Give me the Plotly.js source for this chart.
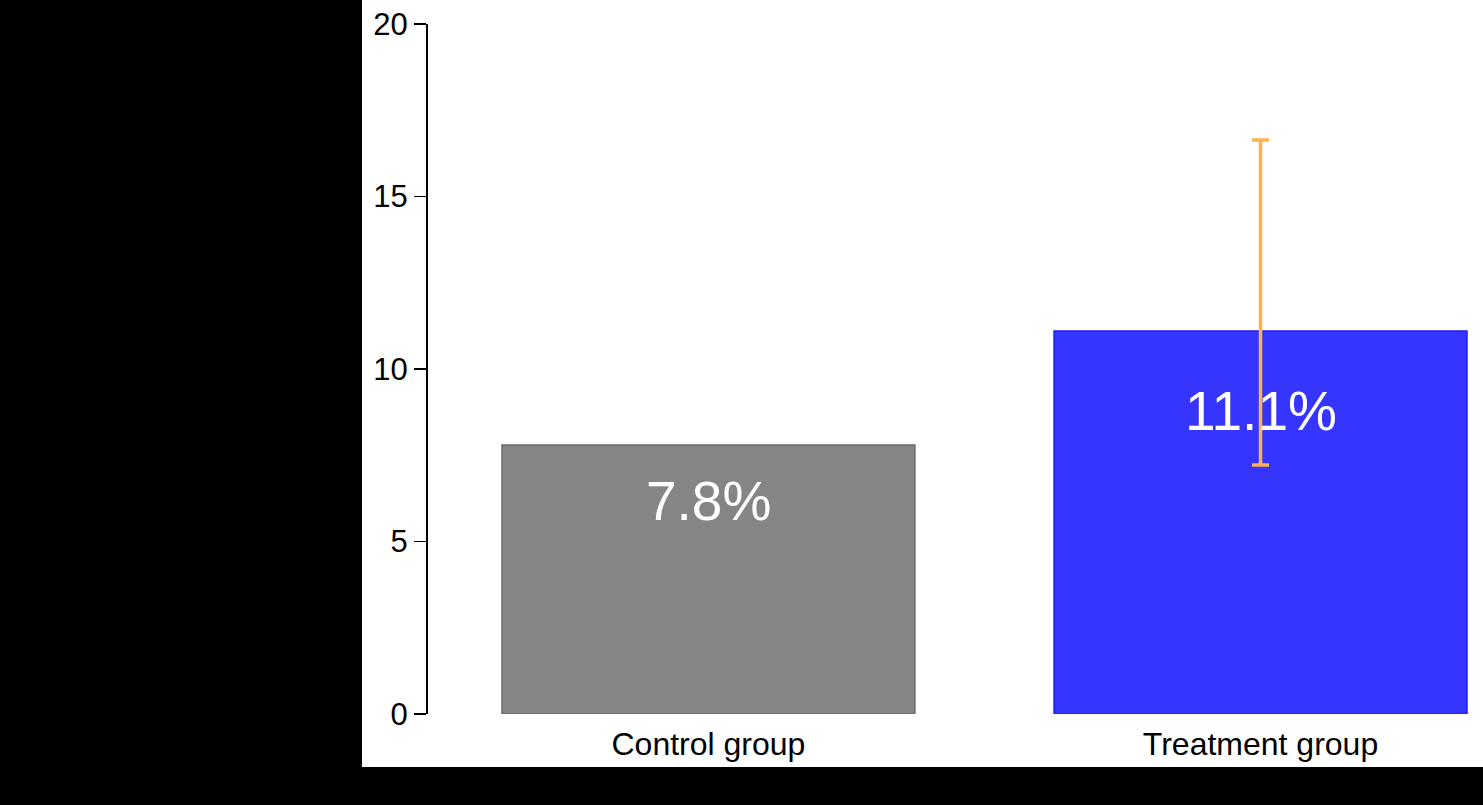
<!DOCTYPE html>
<html>
<head>
<meta charset="utf-8">
<script src="https://cdn.plot.ly/plotly-3.0.1.min.js"></script>
<style>
  html, body { margin: 0; padding: 0; background: #000; }
  #chart { position: absolute; left: 362px; top: 0; width: 1121px; height: 767px; }
</style>
</head>
<body>
<div id="chart"></div>
<script>
// groups and percentages
const groups = ["Control group", "Treatment group"];
const pct = [7.8, 11.1];
const barFill = ["#858585", "#3535ff"];
const barEdge = ["#6a6a6a", "#1c1cff"];

// confidence interval, only for the treatment group
const ciGroup = ["Treatment group"];
const ciMid = [11.1];
const ciHigh = [16.64];
const ciLow = [7.22];

const yTicks = [0, 5, 10, 15, 20];

const fontFam = "Arial, 'Liberation Sans', sans-serif";

const bars = {
    type: 'bar',
    x: groups,
    y: pct,
    width: 0.748,
    marker: { color: barFill, line: { color: barEdge, width: 1.5 } },
    hoverinfo: 'x+y'
};

const ci = {
    type: 'scatter',
    mode: 'markers',
    x: ciGroup,
    y: ciMid,
    marker: { size: 1, color: 'rgba(0,0,0,0)' },
    error_y: {
        type: 'data',
        symmetric: false,
        array: ciHigh.map((h, i) => h - ciMid[i]),
        arrayminus: ciLow.map((l, i) => ciMid[i] - l),
        color: '#ffb150',
        thickness: 3.5,
        width: 8.5
    },
    hoverinfo: 'skip'
};

// value labels inside the bars
const labels = groups.map((g, i) => ({
    x: g,
    y: pct[i] * 0.79,
    text: pct[i].toFixed(1) + '%',
    showarrow: false,
    yanchor: 'middle',
    font: { family: fontFam, size: 55, color: '#ffffff' }
}));

Plotly.newPlot('chart', [bars, ci], {
    width: 1121,
    height: 767,
    margin: { l: 66, r: 0, t: 24, b: 53 },
    paper_bgcolor: '#ffffff',
    plot_bgcolor: '#ffffff',
    showlegend: false,
    font: { family: fontFam, color: '#000' },
    xaxis: {
        type: 'category',
        range: [-0.508, 1.403],
        showline: false,
        showgrid: false,
        zeroline: false,
        ticks: 'outside',
        ticklen: 2,
        tickcolor: 'rgba(0,0,0,0)',
        tickfont: { size: 32, family: fontFam }
    },
    yaxis: {
        range: [0, 20],
        tickvals: yTicks,
        showline: true,
        linecolor: '#000',
        linewidth: 2,
        showgrid: false,
        zeroline: false,
        ticks: 'outside',
        ticklen: 12,
        tickwidth: 1.8,
        tickcolor: '#000',
        tickfont: { size: 31, family: fontFam }
    },
    annotations: labels
}, { displayModeBar: false, staticPlot: true });
</script>
</body>
</html>
